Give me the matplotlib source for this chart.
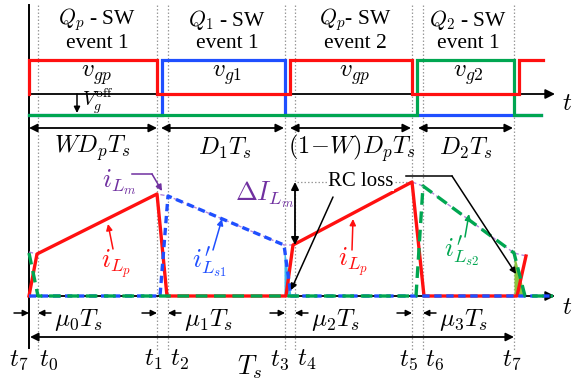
import matplotlib
matplotlib.use("Agg")
import matplotlib.pyplot as plt

plt.rcParams["font.family"] = "serif"
plt.rcParams["font.serif"] = ["Liberation Serif", "DejaVu Serif"]
plt.rcParams["mathtext.fontset"] = "cm"

# ---- switching instants (horizontal positions in the period) ----
t_labels = ["$t_7$", "$t_0$", "$t_1$", "$t_2$", "$t_3$", "$t_4$", "$t_5$", "$t_6$", "$t_7$"]
t_inst = [29, 38, 157, 168, 285, 295, 412, 423, 514]
t_label_x = [19, 49, 153, 179, 280, 307, 408, 435, 512]

# ---- gate signals: edge instants and on/off states (steps-post) ----
vgp_edges = [29, 29, 157, 290, 412, 519, 543]
vgp_state = [0, 1, 0, 1, 0, 1, 1]
vg1_edges = [29, 162, 285, 541]
vg1_state = [0, 1, 0, 0]
vg2_edges = [29, 417, 514, 541]
vg2_state = [0, 1, 0, 0]

# ---- inductor currents (arbitrary units above the zero line) ----
iLp_t = [29, 37, 157, 167, 286, 293, 412, 424, 517, 526]
iLp_v = [0, 42, 102, 0, 0, 51, 114, 0, 0, 40]
iLs1_t = [29, 160, 168, 284, 291, 553]
iLs1_v = [0, 0, 100, 51, 0, 0]
iLs2_t = [29, 38, 416, 423, 514, 525, 553]
iLs2_v = [43, 0, 0, 110, 43, 0, 0]
iLm_t = [29, 37, 157, 168, 284, 293, 412, 423, 514, 526]
iLm_v = [44, 42, 102, 100, 51, 51, 114, 110, 43, 40]

# ---- interval labels ----
headers = [r"$Q_p$ - SW", r"$Q_1$ - SW", r"$Q_p$- SW", r"$Q_2$ - SW"]
events = ["event 1", "event 1", "event 2", "event 1"]
header_x = [97, 227, 355, 468]
gate_names = [r"$v_{gp}$", r"$v_{g1}$", r"$v_{gp}$", r"$v_{g2}$"]
spans = [(29, 157), (161, 284), (290, 411), (418, 513)]
span_labels = [r"$WD_pT_s$", r"$D_1T_s$", r"$(1\!-\!W)D_pT_s$", r"$D_2T_s$"]
span_label_x = [92, 225, 352, 466]
mu_labels = [r"$\mu_0T_s$", r"$\mu_1T_s$", r"$\mu_2T_s$", r"$\mu_3T_s$"]

RED = "#ff1010"
BLUE = "#1f4fff"
GREEN = "#00a651"
PURPLE = "#7030a0"
LPURPLE = "#b488dc"
GREY = "#9a9a9a"

Y0 = 296          # zero line of the current plot
GATE_HI, GATE_LO_P, GATE_LO_S = 60, 94, 115


def cy(v):
    return Y0 - v


fig = plt.figure(figsize=(5.73, 3.84), dpi=100)
ax = fig.add_axes([0, 0, 1, 1])
ax.set_xlim(0, 573)
ax.set_ylim(384, 0)
ax.axis("off")


def arrow(x0, y0, x1, y1, color="black", lw=1.2, style="-|>", ms=11, z=6):
    ax.annotate("", xy=(x1, y1), xytext=(x0, y0),
                arrowprops=dict(arrowstyle=style, color=color, lw=lw,
                                mutation_scale=ms, shrinkA=0, shrinkB=0),
                zorder=z)


# dotted instants
for x in t_inst[1:]:
    ax.plot([x, x], [5, 350], color=GREY, lw=0.9, ls=(0, (1.2, 1.6)), zorder=1)

# vertical axis and the two time axes
ax.plot([29, 29], [5, 348], color="black", lw=1.4, zorder=2)
arrow(29, GATE_LO_P, 555, GATE_LO_P, lw=1.3, ms=14, z=2)
arrow(29, Y0, 555, Y0, lw=1.3, ms=14, z=2)
ax.text(567, 104, r"$t$", fontsize=18, ha="center", va="center")
ax.text(567, 308, r"$t$", fontsize=18, ha="center", va="center")

# gate waveforms
def gate(edges, state, low, color, z):
    ys = [GATE_HI if s else low for s in state]
    ax.plot(edges, ys, drawstyle="steps-post", color=color, lw=2.3, zorder=z,
            solid_joinstyle="miter")

gate(vg1_edges, vg1_state, GATE_LO_S, BLUE, 3)
gate(vg2_edges, vg2_state, GATE_LO_S, GREEN, 4)
gate(vgp_edges, vgp_state, GATE_LO_P, RED, 5)

for x, h, e, g in zip(header_x, headers, events, gate_names):
    ax.text(x, 20, h, fontsize=15.5, ha="center", va="center")
    ax.text(x, 43, e, fontsize=15.5, ha="center", va="center")
    ax.text(x, 75, g, fontsize=18, ha="center", va="center")

# V_g off marker
arrow(77, GATE_LO_P, 77, 113, lw=1.1, ms=9)
ax.text(82, 101, r"$V_g^{\rm off}$", fontsize=14, ha="left", va="center")

# interval arrows
for (a, b), lab, lx in zip(spans, span_labels, span_label_x):
    arrow(a, 128, b, 128, style="<|-|>", lw=1.3, ms=12)
    ax.text(lx, 148, lab, fontsize=17.5, ha="center", va="center")

# currents
ax.plot(iLm_t, [cy(v) for v in iLm_v], color=LPURPLE, lw=1.0, ls=(0, (3, 2)), zorder=3)
ax.fill_between(iLs1_t[3:5], [cy(v) for v in iLs1_v[3:5]], Y0, color="#3db6ee", lw=0, zorder=3)
ax.fill_between(iLs2_t[4:6], [cy(v) for v in iLs2_v[4:6]], Y0, color="#8cc63f", lw=0, zorder=3)
ax.plot(iLp_t, [cy(v) for v in iLp_v], color=RED, lw=2.4, zorder=4)
ax.plot(iLs1_t, [cy(v) for v in iLs1_v], color=BLUE, lw=2.4, ls=(0, (2.2, 1.4)), zorder=5)
ax.plot(iLs2_t, [cy(v) for v in iLs2_v], color=GREEN, lw=2.4, ls=(0, (3.5, 2)), zorder=6)

# current labels
ax.plot([132, 152], [174, 174], color=PURPLE, lw=1.1)
arrow(152, 174, 162, 191, color=PURPLE, lw=1.1, ms=9)
ax.text(119, 182, r"$i_{L_m}$", fontsize=19, color=PURPLE, ha="center", va="center")
arrow(113, 249, 108, 224, color=RED, lw=1.1, ms=9)
ax.text(116, 264, r"$i_{L_p}$", fontsize=19, color=RED, ha="center", va="center")
arrow(213, 250, 222, 219, color=BLUE, lw=1.1, ms=9)
ax.text(210, 262, r"$i^{\prime}_{L_{s1}}$", fontsize=19, color=BLUE, ha="center", va="center")
arrow(352, 250, 353, 219, color=RED, lw=1.1, ms=9)
ax.text(353, 262, r"$i_{L_p}$", fontsize=19, color=RED, ha="center", va="center")
arrow(465, 237, 469, 214, color=GREEN, lw=1.1, ms=9)
ax.text(462, 251, r"$i^{\prime}_{L_{s2}}$", fontsize=19, color=GREEN, ha="center", va="center")

# magnetizing ripple and RC loss
ax.plot([297, 412], [cy(iLp_v[6])] * 2, color=GREY, lw=0.9, ls=(0, (1.2, 1.6)), zorder=1)
arrow(295, cy(iLp_v[6]), 295, cy(iLp_v[5]), style="<|-|>", lw=1.3, ms=11)
ax.text(265, 195, r"$\Delta I_{L_m}$", fontsize=19, color=PURPLE, ha="center", va="center")
ax.text(361, 181, "RC loss", fontsize=15, ha="center", va="center",
        bbox=dict(facecolor="white", edgecolor="none", pad=0.5), zorder=7)
arrow(333, 197, 291, 290, lw=1.1, ms=9, z=8)
ax.plot([406, 452], [176, 176], color="black", lw=1.1, zorder=8)
arrow(452, 176, 516, 274, lw=1.1, ms=9, z=8)

# dead-time arrows and labels
for k in range(4):
    xr = t_inst[2 * k]
    xl = t_inst[2 * k + 1]
    arrow(xr - 15, 313, xr, 313, lw=1.1, ms=9)
    arrow(xl + 13, 313, xl, 313, lw=1.1, ms=9)
    ax.text(xl + 16, 320, mu_labels[k], fontsize=18, ha="left", va="center")

# period arrow
arrow(30, 337, 514, 337, style="<|-|>", lw=1.3, ms=12)
ax.text(250, 367, r"$T_s$", fontsize=19, ha="center", va="center")

for x, lab in zip(t_label_x, t_labels):
    ax.text(x, 360, lab, fontsize=18, ha="center", va="center")

fig.savefig("out.png", dpi=100)
